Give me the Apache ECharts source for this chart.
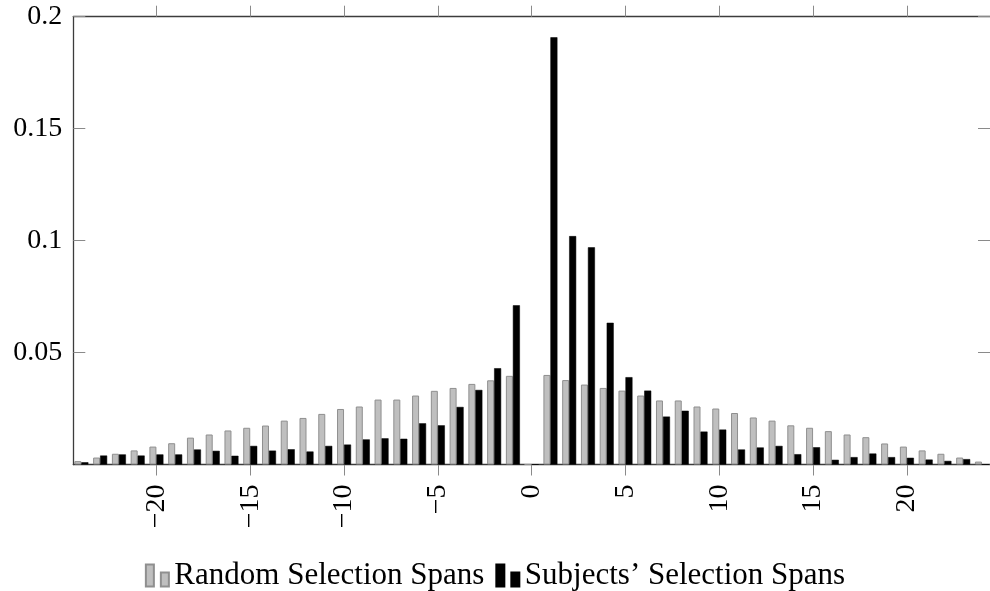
<!DOCTYPE html>
<html>
<head>
<meta charset="utf-8">
<script src="https://cdn.jsdelivr.net/npm/echarts@6/dist/echarts.min.js"></script>
<style>
html,body{margin:0;padding:0;background:#fff;}
#chart{width:990px;height:591px;}
</style>
</head>
<body>
<div id="chart"></div>
<script>
// Span offsets (x categories)
var spans = [-24,-23,-22,-21,-20,-19,-18,-17,-16,-15,-14,-13,-12,-11,-10,-9,-8,-7,-6,-5,-4,-3,-2,-1,0,
             1,2,3,4,5,6,7,8,9,10,11,12,13,14,15,16,17,18,19,20,21,22,23,24];
// Random Selection Spans (gray)
var randomSpans = [0.0015,0.0031,0.0048,0.0063,0.0080,0.0095,0.0120,0.0134,0.0152,0.0164,0.0174,0.0196,0.0208,0.0226,0.0248,0.0259,0.0290,0.0290,0.0308,0.0329,0.0342,0.0360,0.0376,0.0396,0,
                   0.0400,0.0377,0.0357,0.0342,0.0330,0.0308,0.0286,0.0286,0.0259,0.0250,0.0230,0.0210,0.0196,0.0175,0.0164,0.0149,0.0134,0.0122,0.0094,0.0080,0.0063,0.0048,0.0031,0.0013];
// Subjects' Selection Spans (black)
var subjectSpans = [0.0010,0.0040,0.0045,0.0040,0.0045,0.0045,0.0067,0.0061,0.0039,0.0083,0.0062,0.0068,0.0058,0.0083,0.0089,0.0112,0.0117,0.0115,0.0184,0.0175,0.0257,0.0333,0.0430,0.0711,0,
                    0.1908,0.1020,0.0970,0.0633,0.0390,0.0330,0.0214,0.0240,0.0147,0.0156,0.0067,0.0076,0.0083,0.0046,0.0077,0.0021,0.0033,0.0049,0.0033,0.0030,0.0022,0.0016,0.0024,0];
// Tick values and labels
var xTickValues = [-20,-15,-10,-5,0,5,10,15,20];
var xTickLabels = ['\u221220','\u221215','\u221210','\u22125','0','5','10','15','20'];
var yTickValues = [0.05,0.1,0.15,0.2];
var yTickLabels = ['0.05','0.1','0.15','0.2'];

var FONT = 'Liberation Serif';
var lineCol = '#3c3c3c';
var tickCol = '#8a8a8a';

function pairs(vals){ return spans.map(function(x,i){ return [x, vals[i]]; }); }
function xLab(v){ var i = xTickValues.indexOf(Math.round(v)); return i >= 0 ? xTickLabels[i] : ''; }
function yLab(v){ for (var i=0;i<yTickValues.length;i++){ if (Math.abs(yTickValues[i]-v) < 1e-9) return yTickLabels[i]; } return ''; }

var chart = echarts.init(document.getElementById('chart'), null, {renderer:'canvas'});
chart.setOption({
  animation: false,
  backgroundColor: '#fff',
  grid: {left: 73.3, top: 16.7, width: 918.7, height: 447.8, containLabel: false},
  xAxis: [
    {type:'value', position:'bottom', min:-24.43, max:24.43,
     splitLine:{show:false},
     axisLine:{show:true, onZero:false, lineStyle:{color:lineCol, width:1.3}},
     axisTick:{show:true, inside:false, length:11, customValues:xTickValues, lineStyle:{color:tickCol, width:1}},
     axisLabel:{show:true, rotate:90, margin:20, customValues:xTickValues, formatter:xLab,
                fontFamily:FONT, fontSize:28, color:'#000'}},
    {type:'value', position:'top', min:-24.43, max:24.43,
     splitLine:{show:false},
     axisLine:{show:true, onZero:false, lineStyle:{color:lineCol, width:1.3}},
     axisTick:{show:true, inside:false, length:11, customValues:xTickValues, lineStyle:{color:tickCol, width:1}},
     axisLabel:{show:false}}
  ],
  yAxis: [
    {type:'value', position:'left', min:0, max:0.2,
     splitLine:{show:false},
     axisLine:{show:true, onZero:false, lineStyle:{color:lineCol, width:1.3}},
     axisTick:{show:true, inside:true, length:12, customValues:yTickValues, lineStyle:{color:tickCol, width:1}},
     axisLabel:{show:true, margin:11, customValues:yTickValues, formatter:yLab,
                fontFamily:FONT, fontSize:28, color:'#000'}},
    {type:'value', position:'right', min:0, max:0.2,
     splitLine:{show:false},
     axisLine:{show:false, onZero:false},
     axisTick:{show:true, inside:true, length:12, customValues:yTickValues, lineStyle:{color:tickCol, width:1}},
     axisLabel:{show:false}}
  ],
  legend: {
    left:'center', top:555, itemGap:11, itemWidth:24, itemHeight:22,
    icon:'path://M0,0h8v22h-8z M15,8h8v14h-8z',
    textStyle:{fontFamily:FONT, fontSize:31, color:'#000'},
    data:['Random Selection Spans','Subjects\u2019 Selection Spans']
  },
  series: [
    {name:'Random Selection Spans', type:'bar', xAxisIndex:0, yAxisIndex:0,
     barWidth:7, barGap:'0%',
     itemStyle:{color:'#bfbfbf', borderColor:'#8f8f8f', borderWidth:1},
     data: pairs(randomSpans)},
    {name:'Subjects\u2019 Selection Spans', type:'bar', xAxisIndex:0, yAxisIndex:0,
     barWidth:7, barGap:'0%',
     itemStyle:{color:'#000', borderColor:'#000', borderWidth:0.5},
     data: pairs(subjectSpans)}
  ]
});
</script>
</body>
</html>
